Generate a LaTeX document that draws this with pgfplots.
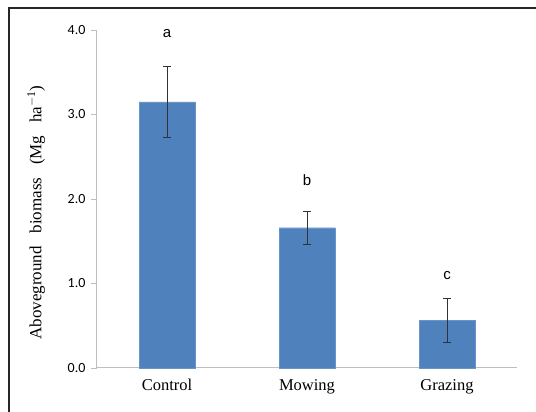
\documentclass[border=0pt]{standalone}
\usepackage{fontspec}
\setmainfont{Liberation Serif}
\newfontfamily\calib{Carlito}
\newfontfamily\arial{Liberation Sans}
\usepackage{pgfplots}
\pgfplotsset{compat=1.18}
\definecolor{barblue}{RGB}{79,129,189}
\definecolor{axgray}{RGB}{190,190,190}
\definecolor{errgray}{RGB}{50,50,50}
\begin{document}
\begin{tikzpicture}[x=1pt,y=1pt]
\useasboundingbox (0,0) rectangle (536,412);
\draw[line width=2pt, black!85] (9,0) -- (9,404) -- (537,404);
\begin{axis}[
  at={(97pt,44pt)}, anchor=south west,
  width=420pt, height=338pt, scale only axis,
  xmin=0, xmax=3, ymin=0, ymax=4,
  axis x line*=bottom, axis y line*=left,
  axis line style={draw=axgray, line width=1pt},
  xtick={0.5,1.5,2.5}, xticklabels={Control,Mowing,Grazing},
  major x tick style={draw=none},
  extra x ticks={0,1,2,3}, extra x tick labels={},
  extra x tick style={major tick style={draw=axgray, line width=0.8pt}, major tick length=6pt, tick align=outside},
  ytick={0,1,2,3,4},
  y tick style={draw=axgray, line width=0.8pt},
  major tick length=6pt, tick align=outside,
  yticklabel={\pgfmathprintnumber[fixed,fixed zerofill,precision=1]{\tick}},
  /pgf/number format/assume math mode=true,
  x tick label style={font=\fontsize{16.5}{18}\selectfont, yshift=-2pt},
  y tick label style={font=\calib\fontsize{14}{16}\selectfont, xshift=-2pt},
  ylabel={Aboveground\ \ \ biomass\ \ \ (Mg\ \ \ ha$^{\mathrm{-1}}$)},
  ylabel style={font=\fontsize{17}{19}\selectfont, at={(axis description cs:-0.145,0.46)}, anchor=center},
  clip=false,
]
\addplot[ybar, bar width=0.4, fill=barblue, draw=barblue!85!white,
  error bars/.cd, y dir=both, y explicit,
  error bar style={draw=errgray, line width=0.8pt},
  error mark options={rotate=90, mark size=4pt, draw=errgray, line width=0.8pt}]
  coordinates {
    (0.5,3.15) +- (0,0.42)
    (1.5,1.66) +- (0,0.195)
    (2.5,0.56) +- (0,0.26)
  };
\node[font=\arial\fontsize{15}{17}\selectfont] at (axis cs:0.5,3.96) {a};
\node[font=\arial\fontsize{15}{17}\selectfont] at (axis cs:1.5,2.22) {b};
\node[font=\arial\fontsize{15}{17}\selectfont] at (axis cs:2.5,1.10) {c};
\end{axis}
\end{tikzpicture}
\end{document}
